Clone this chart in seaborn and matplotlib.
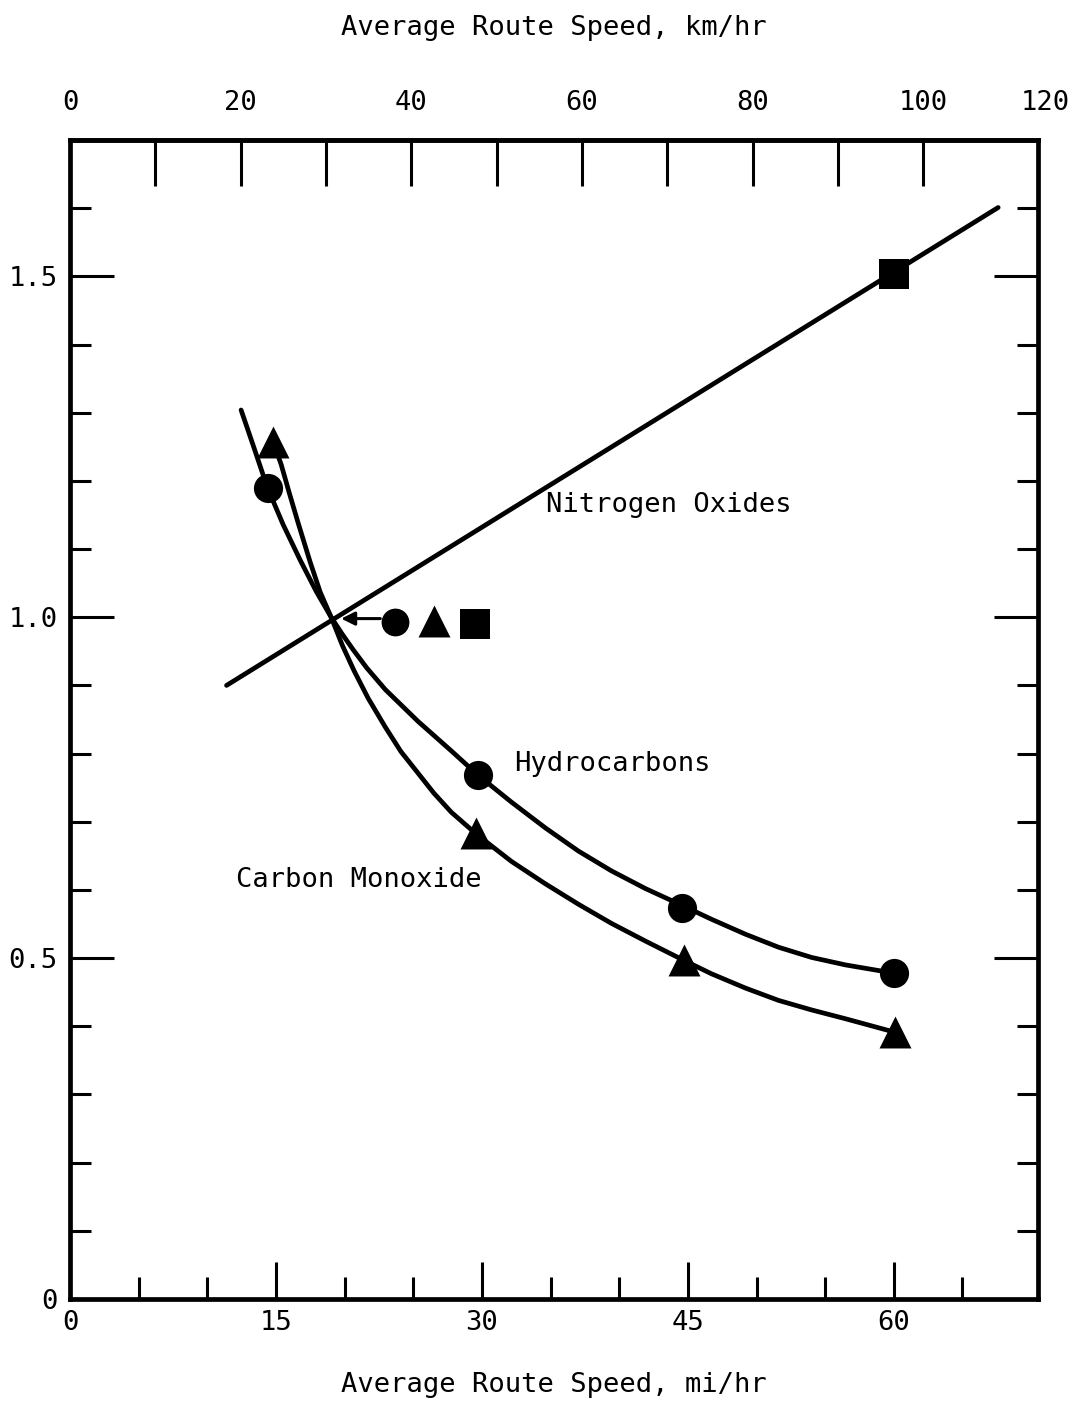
import matplotlib
matplotlib.use("Agg")
import matplotlib.pyplot as plt
import seaborn as sns

# Relative emission rate versus average route speed (mi/hr), normalised to 1.0 at ~19 mi/hr
hc_curve_speed = [12.46, 13.41, 14.36, 15.52, 16.76, 17.93, 19.02, 19.80, 20.60, 21.60,
                  22.96, 25.36, 27.77, 29.74, 32.14, 34.62, 37.03, 39.43, 41.91, 44.61,
                  46.72, 49.20, 51.60, 54.01, 56.49, 59.99]
hc_curve_rel = [1.304, 1.248, 1.191, 1.136, 1.084, 1.038, 1.000, 0.976, 0.953, 0.926,
                0.894, 0.847, 0.804, 0.768, 0.729, 0.691, 0.657, 0.628, 0.602, 0.577,
                0.557, 0.535, 0.516, 0.501, 0.490, 0.478]

co_curve_speed = [14.80, 15.38, 15.96, 16.62, 17.49, 18.22, 19.02, 19.83, 20.70, 21.72,
                  22.96, 24.10, 25.36, 26.50, 27.77, 29.59, 32.14, 34.62, 37.03, 39.43,
                  41.91, 44.68, 46.72, 49.20, 51.60, 54.01, 56.49, 60.13]
co_curve_rel = [1.257, 1.224, 1.183, 1.138, 1.081, 1.037, 1.000, 0.959, 0.921, 0.881,
                0.839, 0.803, 0.771, 0.742, 0.714, 0.682, 0.642, 0.609, 0.579, 0.551,
                0.525, 0.497, 0.477, 0.456, 0.438, 0.424, 0.411, 0.391]

nox_line_speed = [11.4, 67.6]
nox_line_rel = [0.900, 1.601]

# measured points
hc_speed = [14.4, 29.7, 44.6, 60.0]
hc_rel = [1.190, 0.768, 0.573, 0.478]
co_speed = [14.8, 29.6, 44.7, 60.1]
co_rel = [1.257, 0.683, 0.497, 0.391]
nox_speed = [60.0]
nox_rel = [1.504]

# common reference point and its symbol key
ref_speed = 19.75
ref_rel = 0.998
key_arrow_start = 22.6
key_speed = [23.7, 26.5, 29.5]
key_rel = [0.993, 0.994, 0.990]

# axis ticks
mph_major = [0, 15, 30, 45, 60]
mph_minor = [5, 10, 20, 25, 35, 40, 50, 55, 65]
kmh_major = [0, 20, 40, 60, 80, 100]
kmh_minor = [10, 30, 50, 70, 90]
kmh_edge_label = "120"
rel_major = [0, 0.5, 1.0, 1.5]
rel_labels = ["0", "0.5", "1.0", "1.5"]
rel_minor = [0.1, 0.2, 0.3, 0.4, 0.6, 0.7, 0.8, 0.9, 1.1, 1.2, 1.3, 1.4, 1.6]

sns.set_style("white")
INK = "black"
plt.rcParams["font.family"] = ["DejaVu Sans Mono", "DejaVu Sans"]
plt.rcParams["font.size"] = 19.5
plt.rcParams["text.color"] = INK
plt.rcParams["axes.labelcolor"] = INK
plt.rcParams["xtick.color"] = INK
plt.rcParams["ytick.color"] = INK

LW = 3.4
FS = 19.5

fig = plt.figure(figsize=(10.75, 14.04), dpi=100)
ax = fig.add_axes([70 / 1075, 1 - 1299 / 1404, 968 / 1075, 1159 / 1404])

# curves
for xs, ys in [(hc_curve_speed, hc_curve_rel),
               (co_curve_speed, co_curve_rel),
               (nox_line_speed, nox_line_rel)]:
    sns.lineplot(x=xs, y=ys, ax=ax, color=INK, lw=LW, estimator=None, sort=False,
                 solid_capstyle="round", solid_joinstyle="round")

# data points
sns.scatterplot(x=hc_speed, y=hc_rel, ax=ax, marker="o", s=21 ** 2,
                color=INK, edgecolor=INK, linewidth=0, zorder=5)
sns.scatterplot(x=co_speed, y=co_rel, ax=ax, marker="^", s=23 ** 2,
                color=INK, edgecolor=INK, linewidth=0, zorder=5)
sns.scatterplot(x=nox_speed, y=nox_rel, ax=ax, marker="s", s=21 ** 2,
                color=INK, edgecolor=INK, linewidth=0, zorder=5)

# symbol key at the normalisation point
for xk, yk, mk, sz in zip(key_speed, key_rel, ["o", "^", "s"], [20, 23, 21]):
    sns.scatterplot(x=[xk], y=[yk], ax=ax, marker=mk, s=sz ** 2,
                    color=INK, edgecolor=INK, linewidth=0, zorder=5)
ax.annotate("", xy=(ref_speed, ref_rel), xytext=(key_arrow_start, ref_rel),
            arrowprops=dict(arrowstyle="-|>", color=INK, lw=2.2,
                            mutation_scale=20, shrinkA=0, shrinkB=0))

# curve labels
ax.text(43.6, 1.164, "Nitrogen Oxides", ha="center", va="center", fontsize=FS)
ax.text(39.5, 0.784, "Hydrocarbons", ha="center", va="center", fontsize=FS)
ax.text(21.0, 0.614, "Carbon Monoxide", ha="center", va="center", fontsize=FS)

ax.set_xlim(0, 70.5)
ax.set_ylim(0, 1.70)

# axes frame and ticks
for sp in ax.spines.values():
    sp.set_visible(True)
    sp.set_linewidth(3.4)
    sp.set_color(INK)

ax.set_xticks(mph_major)
ax.set_xticks(mph_minor, minor=True)
ax.set_xticklabels([str(v) for v in mph_major])
ax.set_yticks(rel_major)
ax.set_yticks(rel_minor, minor=True)
ax.set_yticklabels(rel_labels)

ax.tick_params(axis="x", which="both", direction="in", bottom=True, top=False,
               width=2.2, color=INK, labelcolor=INK, labelsize=FS, pad=8)
ax.tick_params(axis="x", which="major", length=27)
ax.tick_params(axis="x", which="minor", length=16)
ax.tick_params(axis="y", which="both", direction="in", left=True, right=True,
               width=2.2, color=INK, labelcolor=INK, labelsize=FS, pad=9)
ax.tick_params(axis="y", which="major", length=32)
ax.tick_params(axis="y", which="minor", length=15)

ax.set_xlabel("Average Route Speed, mi/hr", fontsize=FS, labelpad=26, color=INK)
ax.set_ylabel("")

# km/hr scale along the top
top = ax.secondary_xaxis("top", functions=(lambda m: m * 1.609344,
                                           lambda k: k / 1.609344))
top.set_xticks(kmh_major)
top.set_xticks(kmh_minor, minor=True)
top.set_xticklabels([str(v) for v in kmh_major])
top.tick_params(axis="x", which="both", direction="in", length=33, width=2.2,
                color=INK, labelcolor=INK, labelsize=FS, pad=17)
top.spines["top"].set_linewidth(3.4)
top.set_xlabel("Average Route Speed, km/hr", fontsize=FS, labelpad=40, color=INK)
ax.annotate(kmh_edge_label, xy=(1.007, 1.0), xycoords="axes fraction",
            xytext=(0, 17), textcoords="offset points",
            ha="center", va="bottom", fontsize=FS, color=INK)

fig.savefig("out.png", dpi=100, facecolor="white")
